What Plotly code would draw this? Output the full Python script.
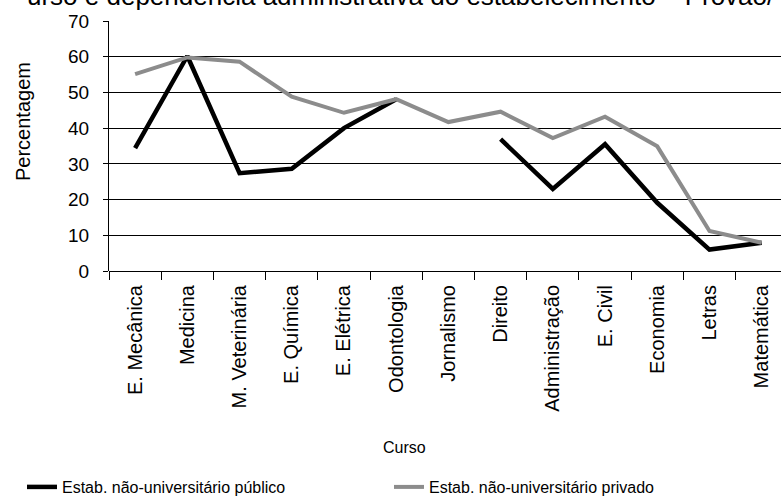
import plotly.graph_objects as go

cursos = ["E. Mecânica", "Medicina", "M. Veterinária", "E. Química", "E. Elétrica",
          "Odontologia", "Jornalismo", "Direito", "Administração", "E. Civil",
          "Economia", "Letras", "Matemática"]

publico = [34.4, 60.2, 27.4, 28.6, 40.0, 48.1, None, 36.9, 23.0, 35.5, 19.1, 6.0, 7.9]
privado = [55.1, 59.8, 58.6, 48.8, 44.3, 48.1, 41.7, 44.6, 37.2, 43.2, 34.9, 11.2, 7.9]

fonte = "Liberation Sans, Arial, sans-serif"

fig = go.Figure()
fig.add_trace(go.Scatter(x=cursos, y=publico, mode="lines",
                         name="Estab. não-universitário público",
                         line=dict(color="black", width=4.5), connectgaps=False))
fig.add_trace(go.Scatter(x=cursos, y=privado, mode="lines",
                         name="Estab. não-universitário privado",
                         line=dict(color="#8c8c8c", width=4)))

fig.update_layout(
    width=781, height=500,
    margin=dict(l=109, r=0, t=21, b=229, autoexpand=False),
    plot_bgcolor="white", paper_bgcolor="white",
    font=dict(family=fonte, color="black", size=16),
    showlegend=True,
    legend=dict(orientation="h", x=-0.1295, xanchor="left", y=-0.864, yanchor="middle",
                font=dict(size=16), itemwidth=30, entrywidth=322),
    xaxis=dict(range=[-0.5, 12.37], showgrid=False, showline=False, automargin=False,
               ticks="outside", tickson="boundaries", ticklen=8, tickcolor="black",
               tickangle=-90, tickfont=dict(size=20), ticklabelstandoff=9),
    yaxis=dict(range=[0, 70], dtick=10, showgrid=True, gridcolor="black", gridwidth=1,
               showline=True, linecolor="black", linewidth=1, zeroline=True,
               zerolinecolor="black", zerolinewidth=1, automargin=False,
               ticks="outside", ticklen=5, tickcolor="black",
               tickfont=dict(size=19), ticklabelstandoff=10),
    annotations=[
        dict(text="Percentagem", xref="paper", yref="paper", x=0, y=0.5,
             xshift=-99, yshift=24, textangle=-90, showarrow=False, font=dict(size=20)),
        dict(text="Curso", xref="paper", yref="paper", x=(404 - 109) / 672, y=0,
             yshift=-187, showarrow=False, font=dict(size=16)),
        dict(text="urso e dependência administrativa do estabelecimento – Provão/",
             xref="paper", yref="paper", x=1, xanchor="right", xshift=-4, y=1,
             yanchor="middle", yshift=25, showarrow=False,
             font=dict(size=26)),
    ],
)

fig.write_html("out.html", config={"displayModeBar": False},
               post_script="document.body.style.margin='0';")
